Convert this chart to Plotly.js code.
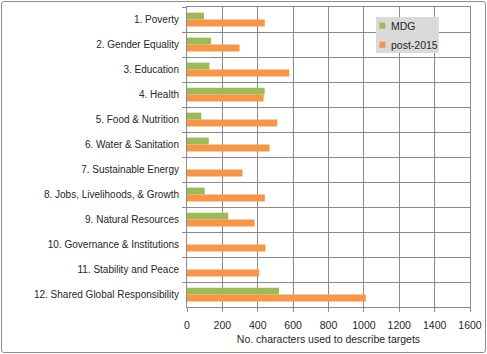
<!DOCTYPE html>
<html>
<head>
<meta charset="utf-8">
<script src="https://cdn.plot.ly/plotly-3.0.1.min.js"></script>
<style>
html,body{margin:0;padding:0;background:#fff;}
#wrap{position:absolute;left:1px;top:1px;width:483px;height:350px;border:1px solid #8c8c8c;border-radius:3px;}
#chart{position:absolute;left:0;top:0;width:487px;height:354px;}
</style>
</head>
<body>
<div id="wrap"></div>
<div id="chart"></div>
<script>
var categories = ["1. Poverty","2. Gender Equality","3. Education","4. Health","5. Food & Nutrition","6. Water & Sanitation","7. Sustainable Energy","8. Jobs, Livelihoods, & Growth","9. Natural Resources","10. Governance & Institutions","11. Stability and Peace","12. Shared Global Responsibility"];
var seriesNames = ["MDG","post-2015"];
var mdgValues = [96,136,127,439,81,123,0,100,233,0,0,520];
var post2015Values = [440,297,578,433,510,467,314,440,382,444,408,1011];
var xTicks = [0,200,400,600,800,1000,1200,1400,1600];
var colors = ["#9bbb59","#f79646"];

var font = "Liberation Sans, Arial, sans-serif";
var textColor = "#262626";
var traces = [
  {type:"bar", orientation:"h", name:seriesNames[0], y:categories, x:mdgValues, marker:{color:colors[0]}},
  {type:"bar", orientation:"h", name:seriesNames[1], y:categories, x:post2015Values, marker:{color:colors[1]}}
];

// custom legend (paper coordinates)
var legendShapes = [
  {type:"rect", xref:"paper", yref:"paper", x0:0.668, x1:0.890, y0:0.847, y1:0.967, fillcolor:"#d9d9d9", line:{width:0}, layer:"above"},
  {type:"rect", xref:"paper", yref:"paper", x0:0.680, x1:0.701, y0:0.928, y1:0.948, fillcolor:colors[0], line:{width:0}, layer:"above"},
  {type:"rect", xref:"paper", yref:"paper", x0:0.680, x1:0.701, y0:0.864, y1:0.884, fillcolor:colors[1], line:{width:0}, layer:"above"}
];
var legendAnn = [
  {xref:"paper", yref:"paper", x:0.714, y:0.938, xanchor:"left", yanchor:"middle", text:seriesNames[0], showarrow:false, font:{family:font, size:10.5, color:textColor}},
  {xref:"paper", yref:"paper", x:0.714, y:0.874, xanchor:"left", yanchor:"middle", text:seriesNames[1], showarrow:false, font:{family:font, size:10.5, color:textColor}}
];

var layout = {
  width:487, height:354,
  margin:{l:187, r:17, t:7, b:47},
  paper_bgcolor:"rgba(0,0,0,0)", plot_bgcolor:"#fff",
  barmode:"group", bargap:0.45, bargroupgap:0,
  font:{family:font, size:10, color:textColor},
  showlegend:false,
  shapes:legendShapes,
  annotations:legendAnn,
  xaxis:{range:[0,1600], tickvals:xTicks, ticktext:xTicks.map(String), showgrid:true, gridcolor:"#8a8a8a", gridwidth:1,
         zeroline:false, ticks:"outside", ticklen:4, tickcolor:"#8a8a8a", showline:true, linecolor:"#8a8a8a", mirror:true,
         tickfont:{family:font, size:10.5, color:textColor}, ticklabelstandoff:4,
         title:{text:"No. characters used to describe targets", font:{family:font, size:10.5, color:textColor}, standoff:6}, fixedrange:true},
  yaxis:{type:"category", autorange:"reversed", tickson:"boundaries", showgrid:true, gridcolor:"#8a8a8a", gridwidth:1,
         ticks:"outside", ticklen:4, tickcolor:"#8a8a8a", showline:true, linecolor:"#8a8a8a", mirror:true,
         tickfont:{family:font, size:10, color:textColor}, ticklabelstandoff:5, fixedrange:true}
};
Plotly.newPlot("chart", traces, layout, {displayModeBar:false, staticPlot:true});
</script>
</body>
</html>
